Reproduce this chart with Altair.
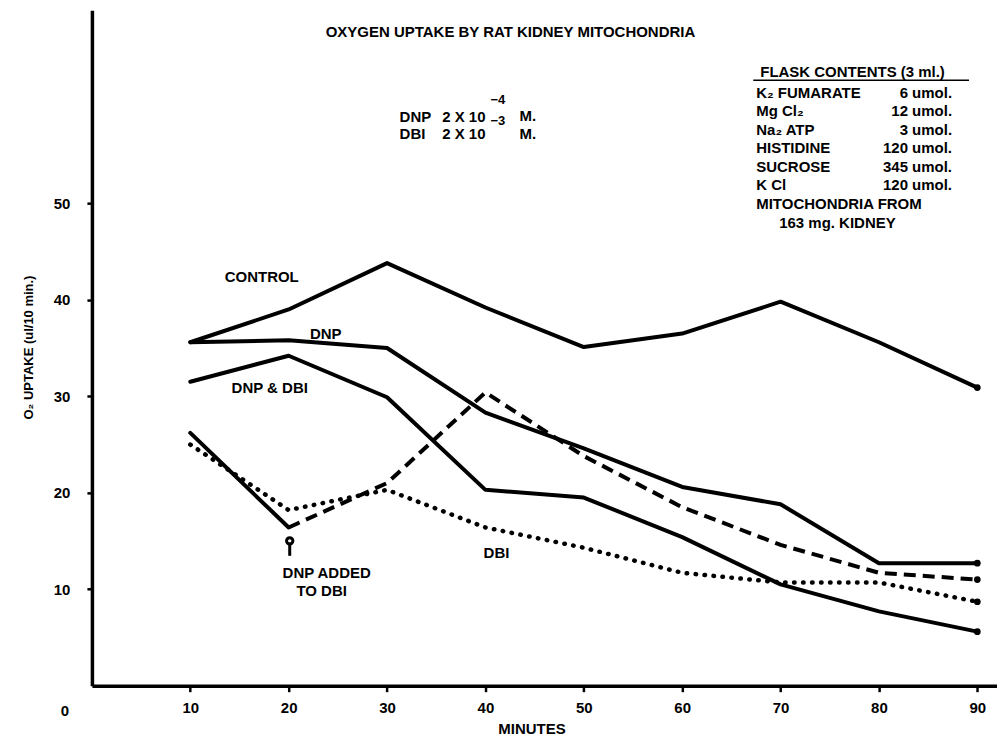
import altair as alt
import pandas as pd

# ---- data ----
minutes = [10, 20, 30, 40, 50, 60, 70, 80, 90]
control = [35.6, 39.0, 43.8, 39.2, 35.1, 36.5, 39.8, 35.6, 30.9]
dnp = [35.6, 35.8, 35.0, 28.3, 24.6, 20.6, 18.8, 12.7, 12.7]
dnp_dbi = [31.5, 34.2, 29.9, 20.3, 19.5, 15.4, 10.5, 7.7, 5.6]
dbi = [25.0, 18.2, 20.3, 16.4, 14.3, 11.7, 10.7, 10.7, 8.7]
dbi_before_minutes = [10, 20]
dbi_before = [26.2, 16.4]
dnp_added_minutes = [20, 30, 40, 50, 60, 70, 80, 90]
dnp_added = [16.4, 21.0, 30.4, 23.8, 18.5, 14.6, 11.7, 11.0]

x_ticks = [10, 20, 30, 40, 50, 60, 70, 80, 90]
y_ticks = [10, 20, 30, 40, 50]

flask_items = ["K₂ FUMARATE", "Mg Cl₂", "Na₂ ATP", "HISTIDINE", "SUCROSE", "K Cl"]
flask_amounts = ["6 umol.", "12 umol.", "3 umol.", "120 umol.", "345 umol.", "120 umol."]

rows = []
def add(series, style, xs, ys):
    for a, b in zip(xs, ys):
        rows.append({"minute": a, "value": b, "series": series, "style": style})

add("CONTROL", "solid", minutes, control)
add("DNP", "solid", minutes, dnp)
add("DNP & DBI", "solid", minutes, dnp_dbi)
add("DBI before", "solid", dbi_before_minutes, dbi_before)
add("DNP added to DBI", "dashed", dnp_added_minutes, dnp_added)
add("DBI", "dotted", minutes, dbi)
df = pd.DataFrame(rows)

FONT = "Liberation Sans"
FS = 15
W, H = 906, 676

xs = alt.X("minute:Q", scale=alt.Scale(domain=[0, 92], nice=False, zero=True),
           axis=alt.Axis(values=x_ticks, title="MINUTES", grid=False,
                         tickSize=6, tickWidth=2.5, tickColor="black",
                         domainWidth=3.5, domainColor="black",
                         labelFont=FONT, labelFontWeight="bold", labelFontSize=FS,
                         labelColor="black", labelPadding=9,
                         titleFont=FONT, titleFontWeight="bold", titleFontSize=FS,
                         titleColor="black", titleX=440, titleY=43,
                         titleBaseline="middle", titleAlign="center"))
ys = alt.Y("value:Q", scale=alt.Scale(domain=[0, 70], nice=False, zero=True),
           axis=alt.Axis(values=y_ticks, title="O₂ UPTAKE (ul/10 min.)", grid=False,
                         tickSize=5, tickWidth=2.5, tickColor="black",
                         domainWidth=3.5, domainColor="black",
                         labelFont=FONT, labelFontWeight="bold", labelFontSize=FS,
                         labelColor="black", labelPadding=17,
                         titleFont=FONT, titleFontWeight="bold", titleFontSize=13,
                         titleColor="black", titleX=-63, titleY=337, titleAngle=270,
                         titleBaseline="middle", titleAlign="center"))

base = alt.Chart(df)

solid = base.transform_filter(alt.datum.style == "solid").mark_line(
    color="black", strokeWidth=4, strokeCap="round", strokeJoin="round"
).encode(x=xs, y=ys, detail="series:N", order="minute:Q")

dashed = base.transform_filter(alt.datum.style == "dashed").mark_line(
    color="black", strokeWidth=4, strokeDash=[12, 7]
).encode(x=xs, y=ys, detail="series:N", order="minute:Q")

dotted = base.transform_filter(alt.datum.style == "dotted").mark_line(
    color="black", strokeWidth=4.5, strokeDash=[0.5, 8.5], strokeCap="round"
).encode(x=xs, y=ys, detail="series:N", order="minute:Q")

ends = base.transform_filter(alt.datum.minute == 90).mark_circle(
    color="black", size=45, opacity=1
).encode(x=xs, y=ys)


def label(text, x, y, align="center", size=FS, baseline="middle"):
    return alt.Chart(pd.DataFrame({"t": [text]})).mark_text(
        font=FONT, fontWeight="bold", fontSize=size, color="black",
        align=align, baseline=baseline
    ).encode(x=alt.value(x), y=alt.value(y), text="t:N")

OX, OY = 92, 10  # page position of plot origin
def L(text, px, py, align="center", size=FS):
    return label(text, px - OX, py - OY, align, size)

texts = [
    L("OXYGEN UPTAKE BY RAT KIDNEY MITOCHONDRIA", 511, 32),
    L("DNP", 400, 117, "left"), L("2 X 10", 486, 117, "right"),
    L("−4", 491, 100, "left", 13), L("M.", 520, 116, "left"),
    L("DBI", 400, 134, "left"), L("2 X 10", 486, 134, "right"),
    L("−3", 491, 121, "left", 13), L("M.", 520, 134, "left"),
    L("FLASK CONTENTS (3 ml.)", 761, 72, "left"),
    L("MITOCHONDRIA FROM", 757, 204, "left"),
    L("163 mg. KIDNEY", 780, 223, "left"),
    L("CONTROL", 262, 277), L("DNP", 326, 334), L("DNP & DBI", 270, 388),
    L("DBI", 497, 553), L("DNP ADDED", 327, 573), L("TO DBI", 322, 591),
    L("0", 65, 711),
]
row_y = [93, 111, 130, 148, 167, 185]
for item, amt, yy in zip(flask_items, flask_amounts, row_y):
    texts.append(L(item, 757, yy, "left"))
    texts.append(L(amt, 953, yy, "right"))

underline = alt.Chart(pd.DataFrame({"a": [0]})).mark_rule(
    color="black", strokeWidth=1.5
).encode(x=alt.value(754 - OX), x2=alt.value(970 - OX), y=alt.value(80 - OY))

arrow_stem = alt.Chart(pd.DataFrame({"a": [0]})).mark_rule(
    color="black", strokeWidth=3
).encode(x=alt.value(290 - OX), y=alt.value(543 - OY), y2=alt.value(556 - OY))
arrow_head = alt.Chart(pd.DataFrame({"a": [0]})).mark_point(
    shape="circle", filled=False, color="black", strokeWidth=3, size=40, opacity=1
).encode(x=alt.value(290 - OX), y=alt.value(541 - OY))

chart = alt.layer(
    solid, dashed, dotted, ends, underline, arrow_stem, arrow_head, *texts
).properties(
    width=W, height=H,
    padding={"left": 84, "top": 2, "right": 0, "bottom": 56},
    autosize=alt.AutoSizeParams(type="none"),
    background="white",
).configure_view(stroke=None)

chart.save("out.html", embed_options={"renderer": "svg", "actions": False})
